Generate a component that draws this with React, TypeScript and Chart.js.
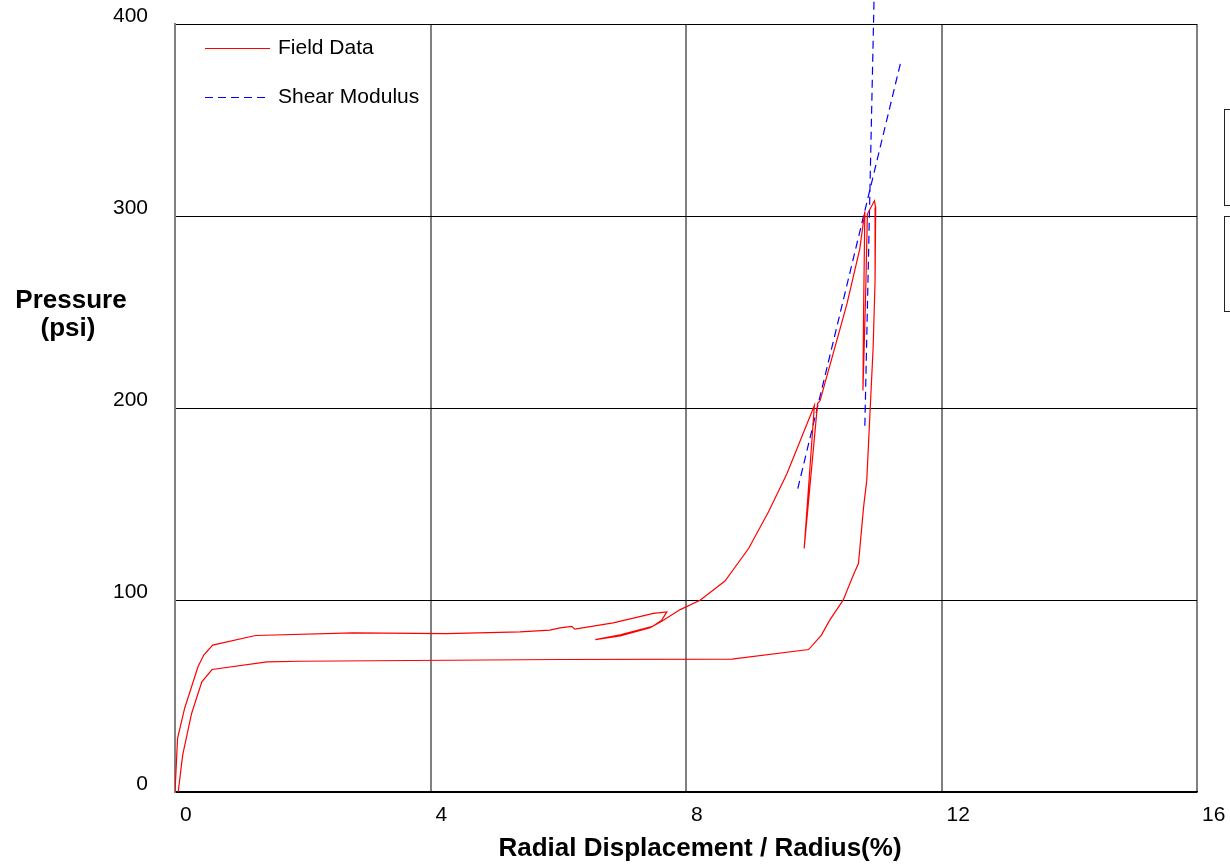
import React, { useEffect, useRef } from "react";
import { Chart, registerables } from "chart.js";

Chart.register(...registerables);

// Axis ticks
const xTickValues = [0, 4, 8, 12, 16];
const yTickValues = [0, 100, 200, 300, 400];

// Field data: radial displacement / radius (%) and pressure (psi), in test order
const fieldDisplacement = [
  0.0, 0.04, 0.15, 0.36, 0.45, 0.59, 1.26, 2.79, 4.25, 5.4, 5.87, 6.03, 6.21, 6.26, 6.86, 7.49, 7.7,
  7.62, 7.48, 6.97, 6.58, 6.97, 7.44, 7.62, 7.91, 8.22, 8.61, 8.98, 9.29, 9.58, 10.01, 9.85, 10.06,
  10.1, 10.52, 10.72, 10.8, 10.78, 10.77, 10.81, 10.84, 10.95, 10.97, 10.96, 10.93, 10.88, 10.83,
  10.78, 10.7, 10.63, 10.46, 10.25, 10.12, 9.92, 8.72, 6.03, 1.96, 1.44, 0.58, 0.42, 0.26, 0.12, 0.05,
];
const fieldPressure = [
  0, 27.9, 43.5, 65.2, 71.3, 76.5, 81.5, 82.9, 82.5, 83.4, 84.3, 85.5, 86.3, 84.8, 88.1, 93.0, 93.8,
  89.5, 86.3, 81.9, 79.4, 81.3, 85.6, 88.9, 95.0, 99.9, 109.9, 126.8, 145.8, 165.8, 201.3, 126.8, 202.3,
  203.9, 254.2, 282.8, 302.4, 250.0, 209.1, 255.9, 301.0, 307.9, 304.4, 266.3, 231.6, 197.0, 162.3,
  148.4, 119.0, 113.8, 99.9, 89.5, 81.7, 74.2, 69.2, 69.0, 68.1, 67.8, 63.8, 57.4, 40.9, 19.2, 0,
];

// Shear modulus fit lines
const shearSteepDisplacement = [10.8, 10.955];
const shearSteepPressure = [190.8, 430];
const shearSlopeDisplacement = [9.75, 11.36];
const shearSlopePressure = [158.0, 379.9];

const FONT = "Arial, 'Liberation Sans', sans-serif";
const RED = "#ff0000";
const BLUE = "#0000ff";
const DASH = [8, 5];

const toPoints = (xs: number[], ys: number[]) => xs.map((x, i) => ({ x, y: ys[i] }));

const overlayPlugin = {
  id: "overlay",
  afterDraw(chart: any) {
    const ctx = chart.ctx as CanvasRenderingContext2D;
    const xs = chart.scales.x;
    const ys = chart.scales.y;
    const area = chart.chartArea;
    ctx.save();
    ctx.fillStyle = "#000";
    ctx.font = `21px ${FONT}`;
    // x tick labels
    ctx.textAlign = "left";
    ctx.textBaseline = "middle";
    xTickValues.forEach((v) => {
      ctx.fillText(String(v), xs.getPixelForValue(v) + 5, area.bottom + 23);
    });
    // y tick labels
    ctx.textAlign = "right";
    yTickValues.forEach((v) => {
      ctx.fillText(String(v), area.left - 27, ys.getPixelForValue(v) - 8);
    });
    // axis titles
    ctx.font = `bold 26px ${FONT}`;
    ctx.textAlign = "center";
    ctx.fillText("Radial Displacement / Radius(%)", 700, area.bottom + 57);
    ctx.fillText("Pressure", 71, 301);
    ctx.fillText("(psi)", 68, 329);

    // legend
    const ds = chart.data.datasets;
    const items = [
      { label: ds[0].label, color: RED, dash: [] as number[], y: 48 },
      { label: ds[1].label, color: BLUE, dash: DASH, y: 97 },
    ];
    ctx.font = `21px ${FONT}`;
    ctx.textAlign = "left";
    items.forEach((it) => {
      ctx.beginPath();
      ctx.strokeStyle = it.color;
      ctx.lineWidth = 1;
      ctx.setLineDash(it.dash);
      ctx.moveTo(205, it.y + 0.5);
      ctx.lineTo(270, it.y + 0.5);
      ctx.stroke();
      ctx.setLineDash([]);
      ctx.fillStyle = "#000";
      ctx.fillText(it.label, 278, it.y);
    });

    // clipped side boxes at the right edge
    ctx.strokeStyle = "#222";
    ctx.lineWidth = 1;
    ctx.strokeRect(1224.5, 109.5, 30, 96);
    ctx.strokeRect(1224.5, 216.5, 30, 95);
    ctx.restore();
  },
};

export default function App() {
  const canvasRef = useRef<HTMLCanvasElement | null>(null);

  useEffect(() => {
    const canvas = canvasRef.current;
    if (!canvas) return;
    const chart = new Chart(canvas, {
      type: "line",
      data: {
        datasets: [
          {
            label: "Field Data",
            data: toPoints(fieldDisplacement, fieldPressure),
            borderColor: RED,
            borderWidth: 1.2,
            pointRadius: 0,
            tension: 0,
            fill: false,
          },
          {
            label: "Shear Modulus",
            data: toPoints(shearSteepDisplacement, shearSteepPressure),
            borderColor: BLUE,
            borderWidth: 1.2,
            borderDash: DASH,
            pointRadius: 0,
            tension: 0,
            fill: false,
            clip: false,
          },
          {
            label: "Shear Modulus",
            data: toPoints(shearSlopeDisplacement, shearSlopePressure),
            borderColor: BLUE,
            borderWidth: 1.2,
            borderDash: DASH,
            pointRadius: 0,
            tension: 0,
            fill: false,
            clip: false,
          },
        ],
      },
      options: {
        animation: false,
        responsive: false,
        maintainAspectRatio: false,
        parsing: { xAxisKey: "x", yAxisKey: "y" },
        layout: { padding: { left: 175, right: 33, top: 24, bottom: 75 } },
        plugins: { legend: { display: false }, tooltip: { enabled: false } },
        scales: {
          x: {
            type: "linear",
            min: 0,
            max: 16,
            ticks: { stepSize: 4, display: false },
            grid: { color: "#808080", lineWidth: 2, drawTicks: false },
            border: { color: "#000", width: 1.5 },
          },
          y: {
            type: "linear",
            min: 0,
            max: 400,
            ticks: { stepSize: 100, display: false },
            grid: { color: "#000", lineWidth: 1, drawTicks: false },
            border: { color: "#808080", width: 2 },
          },
        },
      },
      plugins: [overlayPlugin],
    });
    return () => chart.destroy();
  }, []);

  return (
    <div style={{ position: "fixed", left: 0, top: 0, width: 1230, height: 867, background: "#fff" }}>
      <canvas ref={canvasRef} width={1230} height={867} style={{ width: 1230, height: 867 }} />
    </div>
  );
}
